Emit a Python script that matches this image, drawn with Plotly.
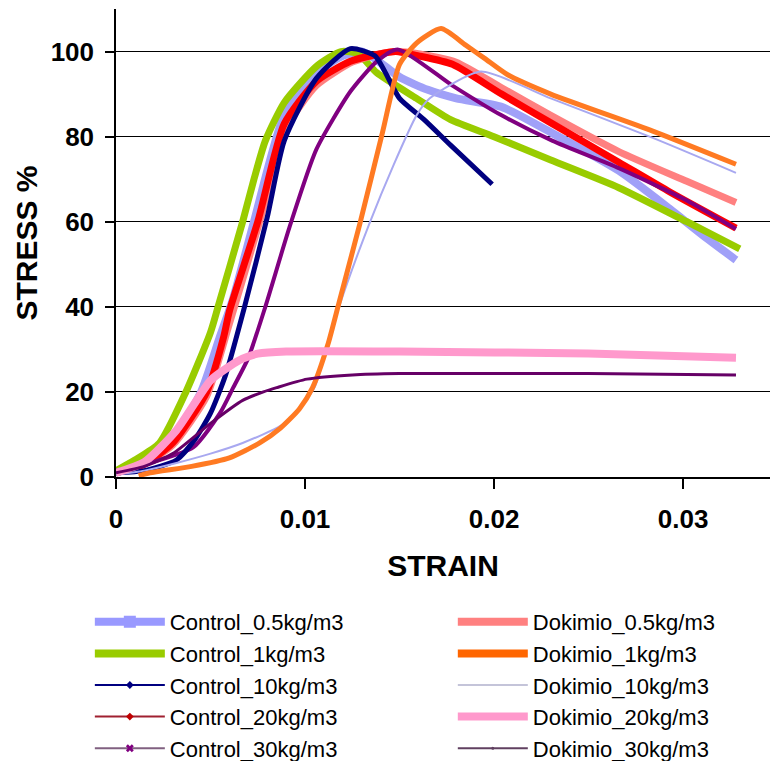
import plotly.graph_objects as go

# ---- data (strain, stress %) ----
c05_x = [0, 0.0015, 0.003, 0.0045, 0.0055, 0.0062, 0.0073, 0.0089, 0.0106, 0.012, 0.013, 0.0138, 0.015, 0.0165, 0.018, 0.0204, 0.023, 0.0266, 0.0293, 0.031, 0.0328]
c05_y = [1, 3.5, 9, 20, 33, 42, 60, 85, 95, 99, 100, 98, 94, 91, 89, 87, 81, 72, 63, 57, 51]

c1_x = [0, 0.001, 0.0023, 0.0037, 0.005, 0.0054, 0.0067, 0.0073, 0.0079, 0.0089, 0.0106, 0.0119, 0.0128, 0.0138, 0.0159, 0.0177, 0.02, 0.023, 0.0266, 0.0302, 0.033]
c1_y = [1.5, 4, 8, 20, 34, 40, 60, 70, 79, 88, 96.5, 100, 99.5, 95, 89, 84, 80, 74.5, 68, 60, 53.6]

c10_x = [0, 0.0015, 0.0032, 0.0042, 0.005, 0.0058, 0.0068, 0.008, 0.0089, 0.0106, 0.0124, 0.0137, 0.0142, 0.015, 0.0163, 0.0177, 0.0199]
c10_y = [1, 1.5, 4, 9, 15, 24, 40, 61, 79, 93.7, 100.7, 99, 95.5, 89, 84, 78, 68.8]

c20_x = [0, 0.0015, 0.003, 0.0048, 0.0057, 0.006, 0.0075, 0.0089, 0.0106, 0.0124, 0.0138, 0.0148, 0.016, 0.0178, 0.0204, 0.0231, 0.0266, 0.0293, 0.0328]
c20_y = [1, 3, 8, 20, 33, 39, 60, 83, 93, 97.7, 99.3, 100, 99, 97, 90, 83, 74, 67, 58.5]

c30_x = [0, 0.0018, 0.0041, 0.0055, 0.0062, 0.007, 0.0079, 0.0092, 0.0106, 0.0124, 0.0138, 0.0149, 0.0178, 0.0204, 0.0231, 0.0266, 0.0302, 0.0328]
c30_y = [1.5, 3.3, 7, 15, 21, 28, 40, 59, 77, 90.6, 97.7, 100.5, 92, 85, 79, 72.6, 65, 58.3]

d05_x = [0, 0.0015, 0.003, 0.0048, 0.006, 0.0076, 0.009, 0.0106, 0.0125, 0.014, 0.0148, 0.016, 0.018, 0.0204, 0.023, 0.0266, 0.0302, 0.0328]
d05_y = [1, 3, 7.5, 19, 36, 60, 82, 92, 97.5, 99.5, 100, 99.5, 97.5, 91.5, 85, 76.5, 69.5, 64.5]

d1_x = [0.0012, 0.0018, 0.004, 0.006, 0.0076, 0.0087, 0.0097, 0.0104, 0.0112, 0.0118, 0.0129, 0.0141, 0.015, 0.0159, 0.0172, 0.0185, 0.0195, 0.0207, 0.023, 0.0284, 0.0328]
d1_y = [0.3, 1, 2.5, 4.5, 8, 11.5, 16, 21, 31, 41, 59.5, 81, 97, 102, 105.4, 101.5, 98.4, 94.6, 90, 81.3, 73.5]

d10_x = [0, 0.0015, 0.0032, 0.005, 0.0067, 0.0087, 0.0096, 0.0105, 0.0118, 0.0134, 0.0147, 0.0159, 0.0166, 0.0193, 0.023, 0.0284, 0.0328]
d10_y = [0.5, 1.5, 3.3, 5.5, 8, 12, 15.5, 21, 40, 59.5, 73.5, 85, 89, 95.3, 89, 79.7, 71.5]

d20_x = [0, 0.0015, 0.0032, 0.005, 0.006, 0.0067, 0.0075, 0.009, 0.015, 0.025, 0.0328]
d20_y = [1, 3.5, 11, 22.7, 26, 27.8, 29, 29.5, 29.5, 29, 28]

d30_x = [0, 0.0015, 0.003, 0.005, 0.0067, 0.0078, 0.0085, 0.0101, 0.0125, 0.015, 0.025, 0.0328]
d30_y = [1, 2.5, 5.5, 12.6, 18, 20, 21, 23, 24, 24.3, 24.3, 24]

x_ticks = [0, 0.01, 0.02, 0.03]
x_ticktext = ["0", "0.01", "0.02", "0.03"]
y_ticks = [0, 20, 40, 60, 80, 100]

FONT = "Arial, Liberation Sans, sans-serif"

fig = go.Figure()

# chart curves (drawing order bottom -> top)
curves = [
    (c05_x, c05_y, "#A0A0F8", 8),
    (c1_x, c1_y, "#99CC00", 7),
    (d05_x, d05_y, "#FF8080", 7),
    (c20_x, c20_y, "#FF0000", 7),
    (c30_x, c30_y, "#800080", 4),
    (c10_x, c10_y, "#000080", 5),
    (d10_x, d10_y, "#A8A8F0", 2),
    (d1_x, d1_y, "#FF7A22", 5),
    (d20_x, d20_y, "#FF99CC", 8),
    (d30_x, d30_y, "#660066", 3),
]
for xs, ys, col, w in curves:
    fig.add_trace(go.Scatter(x=xs, y=ys, mode="lines", showlegend=False,
                             line=dict(color=col, width=w, shape="spline", smoothing=0.6),
                             hoverinfo="skip"))

# legend entries: (name, legend id, rank, line, marker)
legend_items = [
    ("Control_0.5kg/m3", "legend", 1, dict(color="#9999FF", width=8), dict(symbol="square", size=12, color="#9999FF")),
    ("Control_1kg/m3", "legend", 2, dict(color="#99CC00", width=8), None),
    ("Control_10kg/m3", "legend", 3, dict(color="#000080", width=2), dict(symbol="diamond", size=6, color="#000080")),
    ("Control_20kg/m3", "legend", 4, dict(color="#A02030", width=2), dict(symbol="diamond", size=6, color="#C00000")),
    ("Control_30kg/m3", "legend", 5, dict(color="#806080", width=2), dict(symbol="x", size=7, color="#800080")),
    ("Dokimio_0.5kg/m3", "legend2", 1, dict(color="#FF8080", width=8), None),
    ("Dokimio_1kg/m3", "legend2", 2, dict(color="#FF6600", width=8), None),
    ("Dokimio_10kg/m3", "legend2", 3, dict(color="#B0B0CC", width=1.5), None),
    ("Dokimio_20kg/m3", "legend2", 4, dict(color="#FF99CC", width=8), None),
    ("Dokimio_30kg/m3", "legend2", 5, dict(color="#604060", width=2), dict(symbol="circle", size=3, color="#604060")),
]
for name, lg, rank, line, marker in legend_items:
    kw = dict(x=[None], y=[None], name=name, legend=lg, legendrank=rank, line=line,
              mode="lines+markers" if marker else "lines", hoverinfo="skip")
    if marker:
        kw["marker"] = marker
    fig.add_trace(go.Scatter(**kw))

leg_common = dict(orientation="v", yanchor="top", xanchor="left", y=-0.265,
                  font=dict(size=22, family=FONT, color="black"),
                  bgcolor="rgba(0,0,0,0)", itemwidth=70)

fig.update_layout(
    width=770, height=761,
    margin=dict(l=116, r=0, t=9, b=284, autoexpand=False),
    paper_bgcolor="white", plot_bgcolor="white",
    font=dict(family=FONT, color="black"),
    legend=dict(x=-0.04, **leg_common),
    legend2=dict(x=0.515, **leg_common),
    xaxis=dict(range=[0, 0.0346], tickvals=x_ticks, ticktext=x_ticktext,
               showline=True, linecolor="black", linewidth=1.5,
               ticks="outside", ticklen=10, tickcolor="black", tickwidth=1.5,
               showgrid=False, zeroline=False,
               tickfont=dict(size=26, family=FONT, weight="bold"),
               ticklabelstandoff=8,
               title=dict(text="<b>STRAIN</b>", font=dict(size=30, family=FONT), standoff=22)),
    yaxis=dict(range=[0, 110], tickvals=y_ticks,
               showline=True, linecolor="black", linewidth=1.5,
               ticks="outside", ticklen=9, tickcolor="black", tickwidth=1.5,
               showgrid=True, gridcolor="black", gridwidth=1.2, zeroline=False,
               tickfont=dict(size=26, family=FONT, weight="bold"),
               ticklabelstandoff=6,
               title=dict(text="<b>STRESS %</b>", font=dict(size=30, family=FONT), standoff=4)),
)

fig.write_html("out.html")
